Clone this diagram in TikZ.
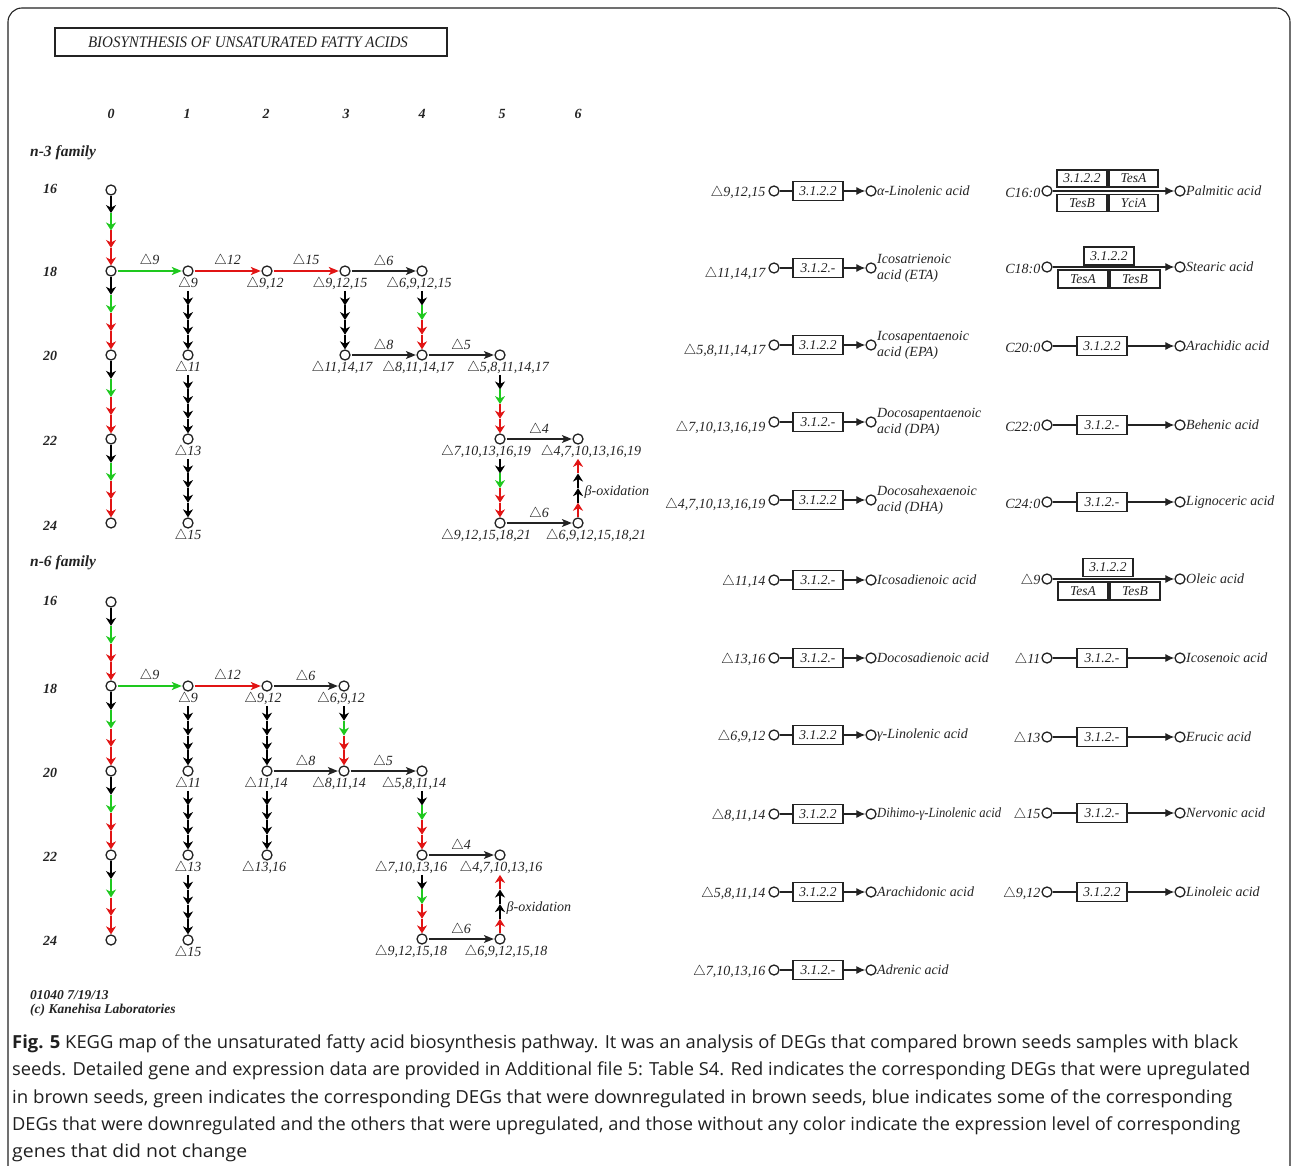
\documentclass[tikz,border=0pt]{standalone}
\usepackage{fontspec}
\usepackage{graphicx}
\setmainfont{Liberation Serif}
\newfontfamily\capfont{Open Sans}
\usetikzlibrary{arrows.meta,calc}
\definecolor{kgreen}{RGB}{30,200,30}
\definecolor{kred}{RGB}{225,20,20}
\definecolor{kline}{RGB}{35,35,35}
\newcommand\tri{\ensuremath{\triangle}}
\newcommand\chain[6]{%
  \coordinate (cs) at (#1);
  \coordinate (ce) at (#2);
  \coordinate (c1) at ($(cs)!0.25!(ce)$);
  \coordinate (c2) at ($(cs)!0.5!(ce)$);
  \coordinate (c3) at ($(cs)!0.75!(ce)$);
  \draw[seg,#3] (cs) -- (c1);
  \draw[seg,#4] (c1) -- (c2);
  \draw[seg,#5] (c2) -- (c3);
  \draw[seg,#6] (c3) -- (ce);}
\newcommand\cmp[5]{\node[cnode,label={[lab,name=#1l,xshift=#5pt]below:{#4}}] (#1) at (#2,#3) {};}
\newcommand\mrow[6]{%
  \node[lab,anchor=east] (mL#1) at (766,#2+#3) {#4};
  \node[cnode] (mC#1) at (774,#2) {};
  \node[ecbox] (mE#1) at (818,#2) {#5};
  \node[cnode] (mD#1) at (871,#2) {};
  \node[rlab,anchor=west] (mN#1) at (877,#2) {#6};
  \draw[rline] (mC#1) -- (mE#1);
  \draw[rarr] (mE#1) -- (mD#1);}
\newcommand\rrow[5]{%
  \node[lab,anchor=east] (rL#1) at (1041,#2+2) {#3};
  \node[cnode] (rC#1) at (1047,#2) {};
  \node[ecbox] (rE#1) at (1102,#2) {#4};
  \node[cnode] (rD#1) at (1180,#2) {};
  \node[rlab,anchor=west] (rN#1) at (1186,#2) {#5};
  \draw[rline] (rC#1) -- (rE#1);
  \draw[rarr] (rE#1) -- (rD#1);}
\begin{document}
\begin{tikzpicture}[x=1pt,y=-1pt,
  cnode/.style={circle,draw=kline,line width=1.3pt,minimum size=10pt,inner sep=0pt,label distance=1pt},
  lab/.style={font=\fontsize{14}{15}\selectfont\itshape,inner sep=0.5pt,text=kline},
  hdr/.style={font=\fontsize{14}{15}\selectfont\bfseries\itshape,inner sep=0pt,text=kline},
  seg/.style={line width=1.6pt,-{Stealth[length=8pt,width=10pt,inset=2.5pt]}},
  harr/.style={line width=1.2pt,kline,-{Stealth[length=10pt,width=8pt,inset=2.5pt]},shorten <=1pt,shorten >=0.5pt},
  hup/.style={harr,line width=2.4pt},
  elab/.style={lab,anchor=south,yshift=2pt},
  ecbox/.style={draw=kline,line width=1.2pt,fill=white,minimum width=50pt,minimum height=19pt,inner sep=0pt,font=\fontsize{13.5}{14}\selectfont\itshape,text=kline},
  rarr/.style={line width=1.2pt,kline,-{Latex[length=9pt,width=8pt]}},
  rline/.style={line width=1.2pt,kline},
  rlab/.style={font=\fontsize{14}{16}\selectfont\itshape,inner sep=0pt,align=left,text=kline},
  capl/.style={font=\fontsize{18}{20}\selectfont\capfont,inner sep=0pt,anchor=base west,text=black!88},
]
\useasboundingbox (0,0) rectangle (1292,1166);
\draw[line width=1.1pt,kline,rounded corners=14pt] (8,1190) -- (8,8) -- (1290,8) -- (1290,1190);

% title and headers
\node[draw=kline,line width=2.4pt,minimum width=392pt,minimum height=28pt,inner sep=0pt] (title) at (251,42) {};
\node[lab,font=\fontsize{16}{17}\selectfont\itshape] (titletext) at (248,42) {\resizebox{320pt}{\height}{BIOSYNTHESIS OF UNSATURATED FATTY ACIDS}};
\foreach \n/\x in {0/111,1/187,2/266,3/346,4/422,5/502,6/578}
  \node[hdr] (col\n) at (\x,114) {\n};
\node[hdr,anchor=west,font=\fontsize{15.5}{16}\selectfont\bfseries\itshape] (fam3) at (30,153) {n-3 family};
\node[hdr,anchor=west,font=\fontsize{15.5}{16}\selectfont\bfseries\itshape] (fam6) at (30,563) {n-6 family};
\foreach \r/\y in {16/189,18/272,20/356,22/441,24/526}
  \node[hdr] (ra\r) at (50,\y) {\r};
\foreach \r/\y in {16/601,18/689,20/773,22/857,24/941}
  \node[hdr] (rb\r) at (50,\y) {\r};

% ---------- n-3 family ----------
\node[cnode] (A016) at (111,190) {};
\node[cnode] (A018) at (111,271) {};
\node[cnode] (A020) at (111,355) {};
\node[cnode] (A022) at (111,439) {};
\node[cnode] (A024) at (111,523) {};
\cmp{A118}{188}{271}{\tri9}{0}
\cmp{A120}{188}{355}{\tri11}{0}
\cmp{A122}{188}{439}{\tri13}{0}
\cmp{A124}{188}{523}{\tri15}{0}
\cmp{A218}{267}{271}{\tri9,12}{-2}
\cmp{A318}{345}{271}{\tri9,12,15}{-5}
\cmp{A320}{345}{355}{\tri11,14,17}{-3}
\cmp{A418}{422}{271}{\tri6,9,12,15}{-3}
\cmp{A420}{422}{355}{\tri8,11,14,17}{-4}
\cmp{A520}{500}{355}{\tri5,8,11,14,17}{8}
\cmp{A522}{500}{439}{\tri7,10,13,16,19}{-14}
\cmp{A524}{500}{523}{\tri9,12,15,18,21}{-14}
\cmp{A622}{578}{439}{\tri4,7,10,13,16,19}{13}
\cmp{A624}{578}{523}{\tri6,9,12,15,18,21}{18}

\chain{A016.south}{A018.north}{black}{kgreen}{kred}{kred}
\chain{A018.south}{A020.north}{black}{kgreen}{kred}{kred}
\chain{A020.south}{A022.north}{black}{kgreen}{kred}{kred}
\chain{A022.south}{A024.north}{black}{kgreen}{kred}{kred}
\chain{A118l.south -| A118}{A120.north}{black}{black}{black}{black}
\chain{A120l.south -| A120}{A122.north}{black}{black}{black}{black}
\chain{A122l.south -| A122}{A124.north}{black}{black}{black}{black}
\chain{A318l.south -| A318}{A320.north}{black}{black}{black}{black}
\chain{A418l.south -| A418}{A420.north}{black}{kgreen}{kred}{kred}
\chain{A520l.south -| A520}{A522.north}{black}{kgreen}{kred}{kred}
\chain{A522l.south -| A522}{A524.north}{black}{kgreen}{kred}{kred}
\chain{A624.north}{A622l.south -| A622}{kred}{black}{black}{kred}
\node[lab,anchor=west,font=\fontsize{14}{15}\selectfont\itshape] (betaA) at (584,492) {β-oxidation};

\draw[hup,kgreen] (A018) -- node[elab]{\tri9} (A118);
\draw[hup,kred] (A118) -- node[elab]{\tri12} (A218);
\draw[hup,kred] (A218) -- node[elab]{\tri15} (A318);
\draw[harr] (A318) -- node[elab]{\tri6} (A418);
\draw[harr] (A320) -- node[elab]{\tri8} (A420);
\draw[harr] (A420) -- node[elab]{\tri5} (A520);
\draw[harr] (A522) -- node[elab]{\tri4} (A622);
\draw[harr] (A524) -- node[elab]{\tri6} (A624);

% ---------- n-6 family ----------
\node[cnode] (B016) at (111,602) {};
\node[cnode] (B018) at (111,686) {};
\node[cnode] (B020) at (111,771) {};
\node[cnode] (B022) at (111,855) {};
\node[cnode] (B024) at (111,940) {};
\cmp{B118}{188}{686}{\tri9}{0}
\cmp{B120}{188}{771}{\tri11}{0}
\cmp{B122}{188}{855}{\tri13}{0}
\cmp{B124}{188}{940}{\tri15}{0}
\cmp{B218}{267}{686}{\tri9,12}{-4}
\cmp{B220}{267}{771}{\tri11,14}{-1}
\cmp{B222}{267}{855}{\tri13,16}{-3}
\cmp{B318}{344}{686}{\tri6,9,12}{-3}
\cmp{B320}{344}{771}{\tri8,11,14}{-5}
\cmp{B420}{422}{771}{\tri5,8,11,14}{-8}
\cmp{B422}{422}{855}{\tri7,10,13,16}{-11}
\cmp{B424}{422}{939}{\tri9,12,15,18}{-11}
\cmp{B522}{500}{855}{\tri4,7,10,13,16}{1}
\cmp{B524}{500}{939}{\tri6,9,12,15,18}{6}

\chain{B016.south}{B018.north}{black}{kgreen}{kred}{kred}
\chain{B018.south}{B020.north}{black}{kgreen}{kred}{kred}
\chain{B020.south}{B022.north}{black}{kgreen}{kred}{kred}
\chain{B022.south}{B024.north}{black}{kgreen}{kred}{kred}
\chain{B118l.south -| B118}{B120.north}{black}{black}{black}{black}
\chain{B120l.south -| B120}{B122.north}{black}{black}{black}{black}
\chain{B122l.south -| B122}{B124.north}{black}{black}{black}{black}
\chain{B218l.south -| B218}{B220.north}{black}{black}{black}{black}
\chain{B220l.south -| B220}{B222.north}{black}{black}{black}{black}
\chain{B318l.south -| B318}{B320.north}{black}{kgreen}{kred}{kred}
\chain{B420l.south -| B420}{B422.north}{black}{kgreen}{kred}{kred}
\chain{B422l.south -| B422}{B424.north}{black}{kgreen}{kred}{kred}
\chain{B524.north}{B522l.south -| B522}{kred}{black}{black}{kred}
\node[lab,anchor=west,font=\fontsize{14}{15}\selectfont\itshape] (betaB) at (506,908) {β-oxidation};

\draw[hup,kgreen] (B018) -- node[elab]{\tri9} (B118);
\draw[hup,kred] (B118) -- node[elab]{\tri12} (B218);
\draw[harr] (B218) -- node[elab]{\tri6} (B318);
\draw[harr] (B220) -- node[elab]{\tri8} (B320);
\draw[harr] (B320) -- node[elab]{\tri5} (B420);
\draw[harr] (B422) -- node[elab]{\tri4} (B522);
\draw[harr] (B424) -- node[elab]{\tri6} (B524);

% ---------- middle column of reactions ----------
\mrow{1}{191}{2}{\tri9,12,15}{3.1.2.2}{α-Linolenic acid}
\mrow{2}{268}{6}{\tri11,14,17}{3.1.2.-}{Icosatrienoic\\acid (ETA)}
\mrow{3}{345}{6}{\tri5,8,11,14,17}{3.1.2.2}{Icosapentaenoic\\acid (EPA)}
\mrow{4}{422}{6}{\tri7,10,13,16,19}{3.1.2.-}{Docosapentaenoic\\acid (DPA)}
\mrow{5}{500}{5}{\tri4,7,10,13,16,19}{3.1.2.2}{Docosahexaenoic\\acid (DHA)}
\mrow{6}{580}{2}{\tri11,14}{3.1.2.-}{Icosadienoic acid}
\mrow{7}{658}{2}{\tri13,16}{3.1.2.-}{Docosadienoic acid}
\mrow{8}{735}{2}{\tri6,9,12}{3.1.2.2}{γ-Linolenic acid}
\mrow{9}{814}{2}{\tri8,11,14}{3.1.2.2}{\resizebox{124pt}{\height}{Dihimo-γ-Linolenic acid}}
\mrow{10}{892}{2}{\tri5,8,11,14}{3.1.2.2}{Arachidonic acid}
\mrow{11}{970}{2}{\tri7,10,13,16}{3.1.2.-}{Adrenic acid}

% ---------- right column of reactions ----------
% C16:0
\node[lab,anchor=east] (rL1) at (1041,193) {C16:0};
\node[cnode] (rC1) at (1047,191) {};
\node[cnode] (rD1) at (1180,191) {};
\node[rlab,anchor=west] (rN1) at (1186,191) {Palmitic acid};
\draw[rarr] (rC1) -- (rD1);
\node[ecbox,minimum width=50pt,minimum height=17pt] (rE1a) at (1082,178.5) {3.1.2.2};
\node[ecbox,minimum width=49pt,minimum height=17pt] (rE1b) at (1133.5,178.5) {TesA};
\node[ecbox,minimum width=50pt,minimum height=17pt] (rE1c) at (1082,203) {TesB};
\node[ecbox,minimum width=49pt,minimum height=17pt] (rE1d) at (1133.5,203) {YciA};
% C18:0
\node[lab,anchor=east] (rL2) at (1041,269) {C18:0};
\node[cnode] (rC2) at (1047,267) {};
\node[cnode] (rD2) at (1180,267) {};
\node[rlab,anchor=west] (rN2) at (1186,267) {Stearic acid};
\draw[rarr] (rC2) -- (rD2);
\node[ecbox,minimum height=18pt] (rE2a) at (1109,256) {3.1.2.2};
\node[ecbox,minimum height=18pt] (rE2b) at (1083,279) {TesA};
\node[ecbox,minimum height=18pt] (rE2c) at (1135,279) {TesB};
\rrow{3}{346}{C20:0}{3.1.2.2}{Arachidic acid}
\rrow{4}{425}{C22:0}{3.1.2.-}{Behenic acid}
\rrow{5}{502}{C24:0}{3.1.2.-}{Lignoceric acid}
% Delta 9 -> oleic
\node[lab,anchor=east] (rL6) at (1041,581) {\tri9};
\node[cnode] (rC6) at (1047,579) {};
\node[cnode] (rD6) at (1180,579) {};
\node[rlab,anchor=west] (rN6) at (1186,579) {Oleic acid};
\draw[rarr] (rC6) -- (rD6);
\node[ecbox,minimum height=18pt] (rE6a) at (1108,567.5) {3.1.2.2};
\node[ecbox,minimum height=18pt] (rE6b) at (1083,591) {TesA};
\node[ecbox,minimum height=18pt] (rE6c) at (1135,591) {TesB};
\rrow{7}{658}{\tri11}{3.1.2.-}{Icosenoic acid}
\rrow{8}{737}{\tri13}{3.1.2.-}{Erucic acid}
\rrow{9}{813}{\tri15}{3.1.2.-}{Nervonic acid}
\rrow{10}{892}{\tri9,12}{3.1.2.2}{Linoleic acid}

% footer
\node[hdr,anchor=west,font=\fontsize{13.5}{14}\selectfont\bfseries\itshape] (ver) at (30,995) {01040 7/19/13};
\node[hdr,anchor=west,font=\fontsize{13.5}{14}\selectfont\bfseries\itshape] (copy) at (30,1010) {(c) Kanehisa Laboratories};

% caption
\node[capl] (cap1) at (12,1048) {\resizebox{1226pt}{\height}{\textbf{Fig. 5} KEGG map of the unsaturated fatty acid biosynthesis pathway. It was an analysis of DEGs that compared brown seeds samples with black}};
\node[capl] (cap2) at (12,1075) {\resizebox{1238pt}{\height}{seeds. Detailed gene and expression data are provided in Additional file 5: Table S4. Red indicates the corresponding DEGs that were upregulated}};
\node[capl] (cap3) at (12,1103) {\resizebox{1220pt}{\height}{in brown seeds, green indicates the corresponding DEGs that were downregulated in brown seeds, blue indicates some of the corresponding}};
\node[capl] (cap4) at (12,1130) {\resizebox{1228pt}{\height}{DEGs that were downregulated and the others that were upregulated, and those without any color indicate the expression level of corresponding}};
\node[capl] (cap5) at (12,1157) {\resizebox{235pt}{\height}{genes that did not change}};
\end{tikzpicture}
\end{document}
